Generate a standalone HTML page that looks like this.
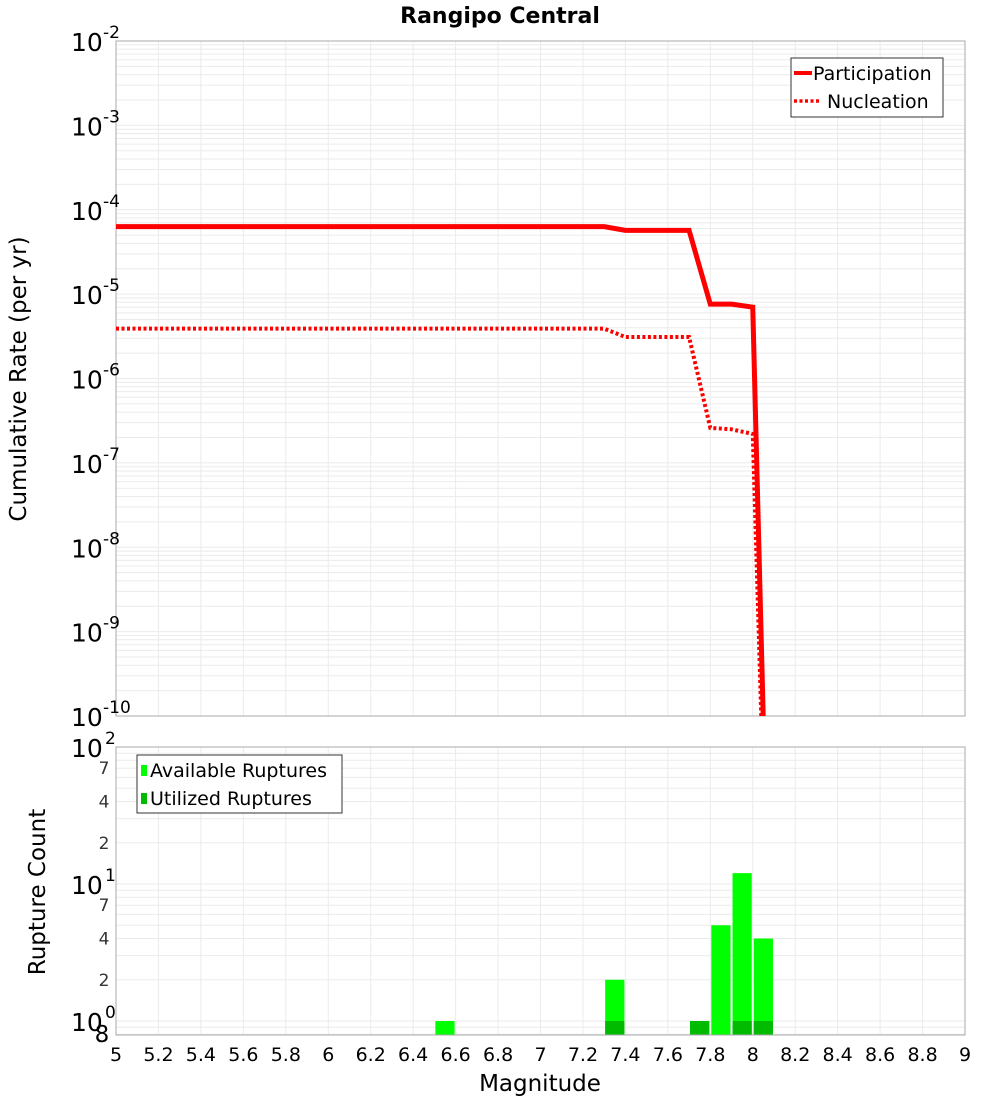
<!DOCTYPE html>
<html><head><meta charset="utf-8"><style>
body{margin:0;background:#fff;width:1000px;height:1100px;overflow:hidden}
svg text{font-family:"DejaVu Sans","Liberation Sans",sans-serif}
</style></head><body>
<svg id="c" width="1000" height="1100" xmlns="http://www.w3.org/2000/svg"></svg>
<script>
const mags=[5.0,5.1,5.2,5.3,5.4,5.5,5.6,5.7,5.8,5.9,6.0,6.1,6.2,6.3,6.4,6.5,6.6,6.7,6.8,6.9,7.0,7.1,7.2,7.3,7.4,7.5,7.6,7.7,7.8,7.9,8.0,8.1];
const participation=[6.3e-5,6.3e-5,6.3e-5,6.3e-5,6.3e-5,6.3e-5,6.3e-5,6.3e-5,6.3e-5,6.3e-5,6.3e-5,6.3e-5,6.3e-5,6.3e-5,6.3e-5,6.3e-5,6.3e-5,6.3e-5,6.3e-5,6.3e-5,6.3e-5,6.3e-5,6.3e-5,6.3e-5,5.7e-5,5.7e-5,5.7e-5,5.7e-5,7.6e-6,7.6e-6,7.0e-6,1e-15];
const nucleation=[3.9e-6,3.9e-6,3.9e-6,3.9e-6,3.9e-6,3.9e-6,3.9e-6,3.9e-6,3.9e-6,3.9e-6,3.9e-6,3.9e-6,3.9e-6,3.9e-6,3.9e-6,3.9e-6,3.9e-6,3.9e-6,3.9e-6,3.9e-6,3.9e-6,3.9e-6,3.9e-6,3.9e-6,3.1e-6,3.1e-6,3.1e-6,3.1e-6,2.6e-7,2.5e-7,2.2e-7,1e-15];
const binStarts=[6.5,7.3,7.7,7.8,7.9,8.0];
const available=[1,2,1,5,12,4];
const utilized=[0,1,1,0,1,1];
const xTicks=[5,5.2,5.4,5.6,5.8,6,6.2,6.4,6.6,6.8,7,7.2,7.4,7.6,7.8,8,8.2,8.4,8.6,8.8,9];
const topExps=[-2,-3,-4,-5,-6,-7,-8,-9,-10];
const botExps=[2,1,0];

const NS="http://www.w3.org/2000/svg",svg=document.getElementById('c');
function el(t,a,p){const e=document.createElementNS(NS,t);for(const k in a)e.setAttribute(k,a[k]);(p||svg).appendChild(e);return e;}
const X0=116,X1=965;
const xs=m=>X0+(m-5)/4*(X1-X0);
const T0=41,T1=716;
const yT=v=>T0+(-2-Math.log10(v))*(T1-T0)/8;
const B0=747,DEC=137;
const yB=v=>B0+(2-Math.log10(v))*DEC;
const B1=1035;

const gT=el('g',{});

for(let e=-10;e<-2;e++)for(let k=1;k<10;k++){const y=yT(k*Math.pow(10,e));if(y<T0||y>T1)continue;el('line',{x1:X0,x2:X1,y1:y,y2:y,stroke:'#ebebeb','stroke-width':1},gT);}
xTicks.forEach(m=>{el('line',{x1:xs(m),x2:xs(m),y1:T0,y2:T1,stroke:'#ebebeb'},gT);});
const fT=el('rect',{x:X0,y:T0,width:X1-X0,height:T1-T0,fill:'none',stroke:'#aaa'});


const gB=el('g',{});

for(let e=-1;e<2;e++)for(let k=1;k<10;k++){const y=yB(k*Math.pow(10,e));if(y<B0||y>B1)continue;el('line',{x1:X0,x2:X1,y1:y,y2:y,stroke:'#ebebeb'},gB);}
xTicks.forEach(m=>{el('line',{x1:xs(m),x2:xs(m),y1:B0,y2:B1,stroke:'#ebebeb'},gB);});

const cp=el('clipPath',{id:'ct'});el('rect',{x:X0,y:T0,width:X1-X0,height:T1-T0},cp);
function pts(arr){return mags.map((m,i)=>xs(m)+','+yT(arr[i])).join(' ');}
const lp=el('polyline',{points:pts(participation),fill:'none',stroke:'#ff0000','stroke-width':5,'clip-path':'url(#ct)'});

const ln=el('polyline',{points:pts(nucleation),fill:'none',stroke:'#ff0000','stroke-width':4,'stroke-dasharray':'3,2.5','clip-path':'url(#ct)'});


binStarts.forEach((b,i)=>{
 const x=xs(b)+1,w=xs(b+0.1)-xs(b)-2;
 const y=yB(available[i]);
 const r=el('rect',{x:x,y:y,width:w,height:B1-y,fill:'#00ff00'});
 
 if(utilized[i]>0){const yu=yB(utilized[i]);const u=el('rect',{x:x,y:yu,width:w,height:B1-yu,fill:'#00bb00'});
 }
});
const fB=el('rect',{x:X0,y:B0,width:X1-X0,height:B1-B0,fill:'none',stroke:'#aaa'});


topExps.forEach(e=>{const y=yT(Math.pow(10,e));
 const t=el('text',{x:71,y:y+10,'font-size':25,fill:'#000'});t.textContent='10';
 
 const s=el('text',{x:103,y:y-3,'font-size':17,fill:'#000'});s.textContent=String(e).replace('-','-');
});
botExps.forEach(e=>{const y=yB(Math.pow(10,e));
 const t=el('text',{x:71,y:y+10,'font-size':25,fill:'#000'});t.textContent='10';
 
 const s=el('text',{x:105,y:y-3,'font-size':17,fill:'#000'});s.textContent=String(e);
});
[[70,'7'],[40,'4'],[20,'2'],[7,'7'],[4,'4'],[2,'2']].forEach(([v,s])=>{
 const t=el('text',{x:104,y:yB(v)+6,'font-size':17,fill:'#333','text-anchor':'middle'});t.textContent=s;
 });
const t8=el('text',{x:102,y:1042,'font-size':23,fill:'#000','text-anchor':'middle'});t8.textContent='8';

xTicks.forEach(m=>{const t=el('text',{x:xs(m),y:1061,'font-size':19,fill:'#000','text-anchor':'middle'});t.textContent=String(m);
 });

let t=el('text',{x:500,y:23,'font-size':22,'font-weight':'bold','text-anchor':'middle'});t.textContent='Rangipo Central';

t=el('text',{x:540,y:1091,'font-size':23,'text-anchor':'middle'});t.textContent='Magnitude';

t=el('text',{x:0,y:0,'font-size':23,'text-anchor':'middle',transform:'translate(26,379) rotate(-90)'});t.textContent='Cumulative Rate (per yr)';

t=el('text',{x:0,y:0,'font-size':23,'text-anchor':'middle',transform:'translate(45,892) rotate(-90)'});t.textContent='Rupture Count';


const lg=el('g',{});
el('rect',{x:791,y:58,width:152,height:59,fill:'#fff',stroke:'#333'},lg);
el('line',{x1:794,x2:812,y1:73,y2:73,stroke:'#f00','stroke-width':4},lg);
el('line',{x1:794,x2:820,y1:101,y2:101,stroke:'#f00','stroke-width':3.5,'stroke-dasharray':'3,2.5'},lg);
t=el('text',{x:813,y:80,'font-size':19},lg);t.textContent='Participation';
t=el('text',{x:827,y:108,'font-size':19},lg);t.textContent='Nucleation';
const lb=el('g',{});
el('rect',{x:137,y:755,width:205,height:58,fill:'#fff',stroke:'#333'},lb);
el('rect',{x:141,y:765,width:6,height:11,fill:'#00ff00'},lb);
el('rect',{x:141,y:793,width:6,height:11,fill:'#00bb00'},lb);
t=el('text',{x:150,y:777,'font-size':19},lb);t.textContent='Available Ruptures';
t=el('text',{x:150,y:805,'font-size':19},lb);t.textContent='Utilized Ruptures';
</script>
</body></html>
